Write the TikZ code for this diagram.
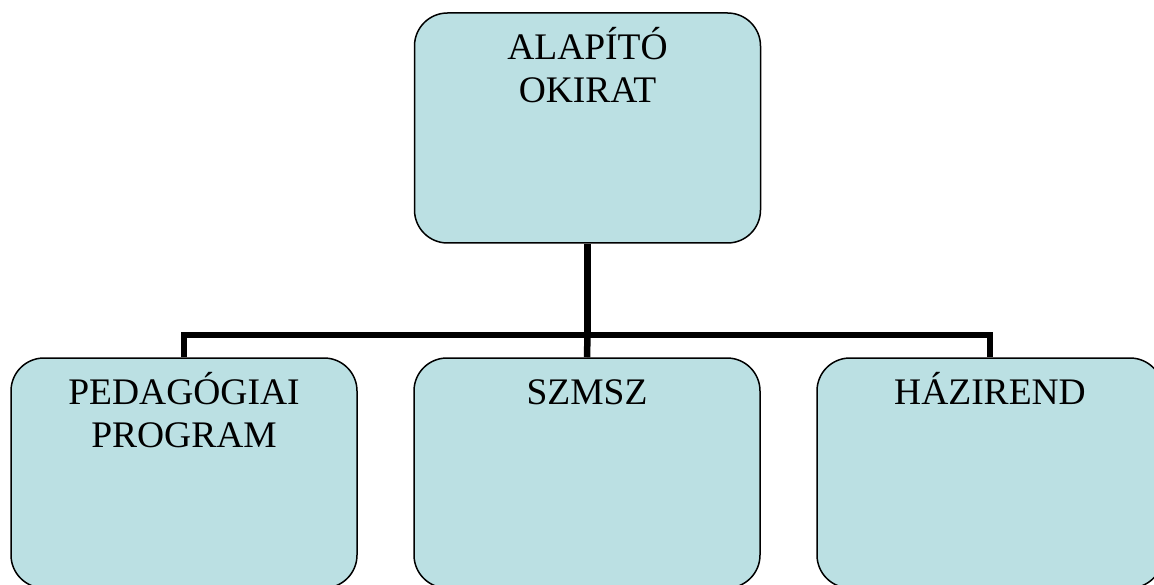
\documentclass[tikz,border=0pt]{standalone}
\usepackage{fontspec}
\setmainfont{Liberation Serif}
\usetikzlibrary{calc}
\definecolor{boxfill}{RGB}{187,224,227}
\newcommand{\toprule}{\rule{0pt}{40pt}}
\tikzset{
  box/.style={draw=black, line width=1.5pt, fill=boxfill, rounded corners=33pt,
    minimum width=346pt, minimum height=230pt, inner sep=0pt},
  lbl/.style={anchor=north, inner sep=0pt, align=center,
    font=\fontsize{37.5}{43}\selectfont},
  conn/.style={draw=black, line width=6.5pt}
}
\begin{document}
\begin{tikzpicture}[x=1pt,y=-1pt]
\useasboundingbox (0,0) rectangle (1154,585);
\node[box] (top) at (587.5,128) {};
\node[box] (left) at (184,473) {};
\node[box] (mid) at (587,473) {};
\node[box] (right) at (990,473) {};
\coordinate (bus) at (587.5,335);
\draw[conn] (top.south) -- (bus);
\draw[conn] (bus) -- (mid.north);
\draw[conn] (left.north) |- (bus) -| (right.north);
\node[lbl] (ttop) at ($(top.north)+(0,7)$) {\toprule ALAPÍTÓ\\OKIRAT};
\node[lbl] (tleft) at ($(left.north)+(0,7)$) {\toprule PEDAGÓGIAI\\PROGRAM};
\node[lbl] (tmid) at ($(mid.north)+(0,7)$) {\toprule SZMSZ};
\node[lbl] (tright) at ($(right.north)+(0,7)$) {\toprule HÁZIREND};
\end{tikzpicture}
\end{document}
